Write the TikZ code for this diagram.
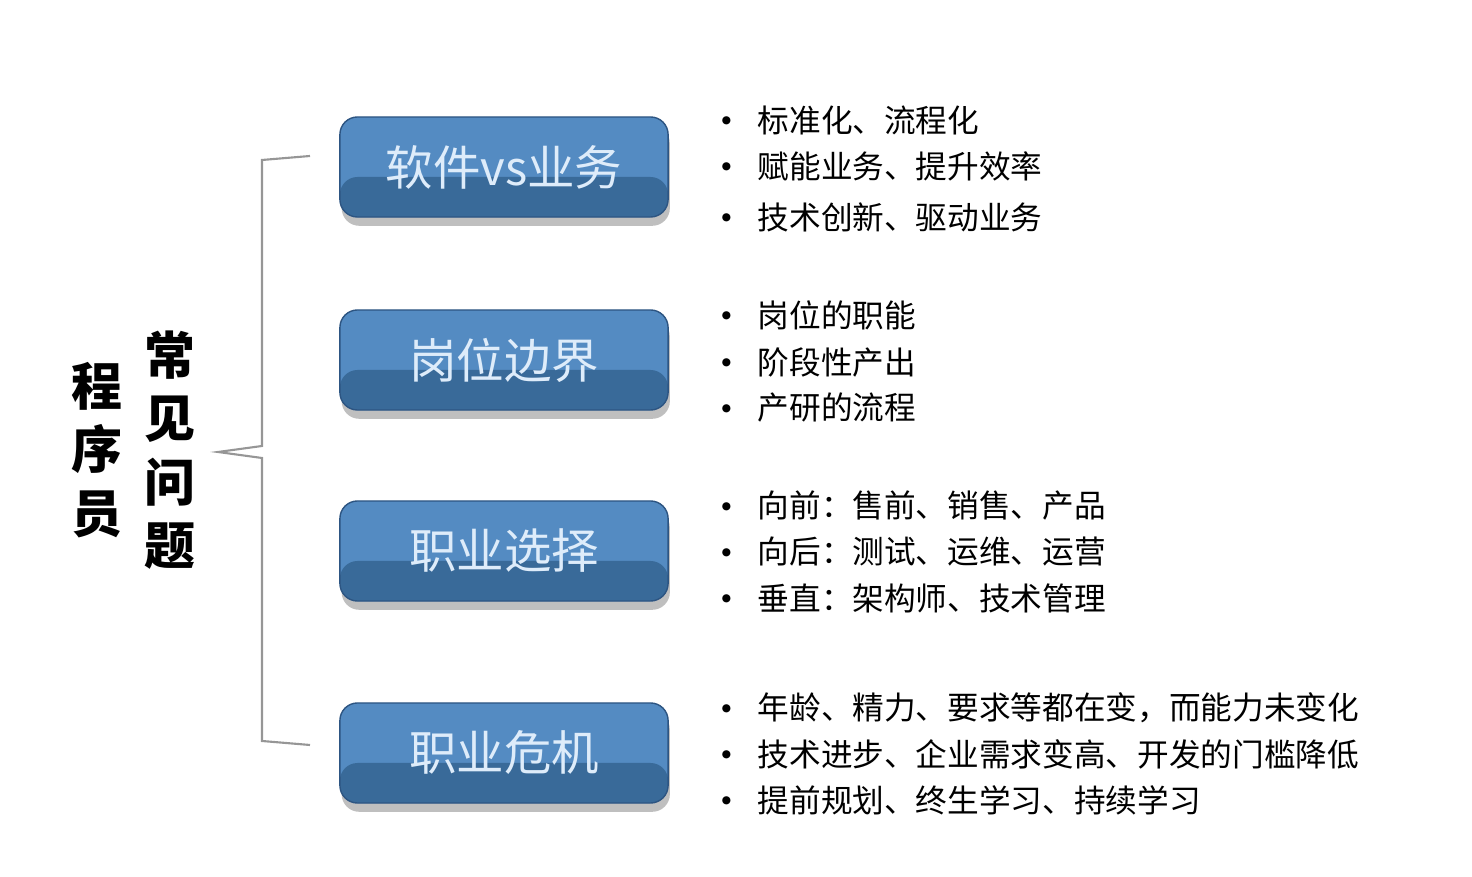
\documentclass[tikz,border=0pt]{standalone}
\usepackage{fontspec}
\setmainfont{Noto Sans CJK SC}
\usetikzlibrary{positioning,shadows}
\definecolor{boxtop}{RGB}{84,139,194}
\definecolor{boxbot}{RGB}{57,106,153}
\definecolor{boxline}{RGB}{45,85,130}
\definecolor{boxtext}{RGB}{222,236,250}
\definecolor{bracegray}{RGB}{150,150,150}

\begin{document}
\begin{tikzpicture}[x=0.01cm,y=-0.01cm,
		topic/.style={draw=boxline, rounded corners=5pt, minimum width=3.28cm, minimum height=1cm,
			fill=boxtop, text=boxtext, font=\fontsize{13.5}{16}\selectfont,
			drop shadow={shadow xshift=0.5pt, shadow yshift=-2.5pt, opacity=0.5},
			path picture={\fill[boxbot] (path picture bounding box.south west)
				rectangle ([yshift=-0.6cm]path picture bounding box.north east);}},
		item/.style={anchor=west, inner sep=0pt, font=\fontsize{9}{11}\selectfont},
		dot/.style={inner sep=0pt, yshift=-1.7pt, font=\fontsize{11}{12}\selectfont},
		title/.style={align=center, font=\fontsize{14.5}{18}\selectfont\bfseries}]
		\useasboundingbox (0,0) rectangle (1472,877);

		% left titles
		\node[title] (prog) at (97,450) {程\\序\\员};
		\node[title] (issue) at (170,450) {常\\见\\问\\题};

		% brace
		\coordinate (bt) at (310,156);
		\coordinate (bb) at (310,745);
		\coordinate (bm) at (218,452);
		\draw[bracegray, line width=0.6pt] (bt) -- (262,160) -- (262,446) -- (bm)
			-- (262,458) -- (262,741) -- (bb);

		% topics
		\node[topic] (soft) at (504,167) {软件vs业务};
		\node[topic] (post) at (504,360) {岗位边界};
		\node[topic] (career) at (504,551) {职业选择};
		\node[topic] (crisis) at (504,753) {职业危机};

		% bullet points
		\foreach \y/\txt [count=\i] in {120/标准化、流程化, 166/赋能业务、提升效率, 217/技术创新、驱动业务}{
			\node[dot] (d1-\i) at (727,\y) {•};
			\node[item] (a1-\i) at (757,\y) {\txt};
		}
		\foreach \y/\txt [count=\i] in {315/岗位的职能, 362/阶段性产出, 408/产研的流程}{
			\node[dot] (d2-\i) at (727,\y) {•};
			\node[item] (a2-\i) at (757,\y) {\txt};
		}
		\foreach \y/\txt [count=\i] in {506/向前：售前、销售、产品, 552/向后：测试、运维、运营, 598/垂直：架构师、技术管理}{
			\node[dot] (d3-\i) at (727,\y) {•};
			\node[item] (a3-\i) at (757,\y) {\txt};
		}
		\foreach \y/\txt [count=\i] in {708/年龄、精力、要求等都在变，而能力未变化, 754/技术进步、企业需求变高、开发的门槛降低, 800/提前规划、终生学习、持续学习}{
			\node[dot] (d4-\i) at (727,\y) {•};
			\node[item] (a4-\i) at (757,\y) {\txt};
		}
	\end{tikzpicture}
\end{document}
